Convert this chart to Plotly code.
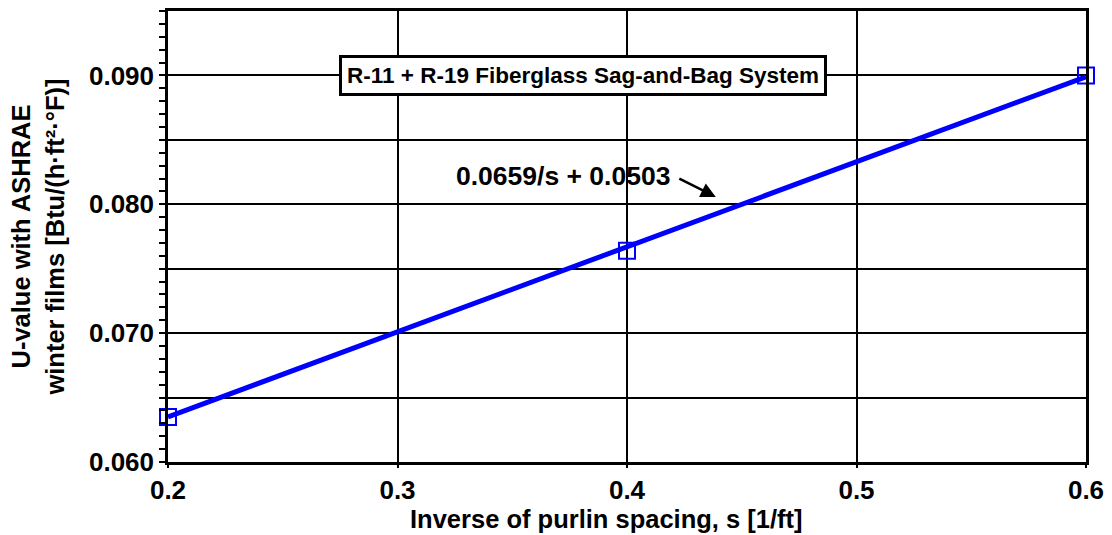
import plotly.graph_objects as go

# Data
spacing_inv = [0.2, 0.4, 0.6]
u_values = [0.0635, 0.0764, 0.0900]
fit_x = [0.2, 0.6]
fit_y = [0.0635, 0.0899]
y_tickvals = [0.060, 0.065, 0.070, 0.075, 0.080, 0.085, 0.090]
y_ticktext = ["0.060", "", "0.070", "", "0.080", "", "0.090"]
title_text = "R-11 + R-19 Fiberglass Sag-and-Bag System"
eq_text = "0.0659/s + 0.0503"
x_title = "Inverse of purlin spacing, s [1/ft]"

FONT = "Arial, Liberation Sans, sans-serif"

fig = go.Figure()
fig.add_trace(go.Scatter(x=fit_x, y=fit_y, mode="lines",
                         line=dict(color="#0000FF", width=5), showlegend=False,
                         hoverinfo="skip"))
fig.add_trace(go.Scatter(x=spacing_inv, y=u_values, mode="markers",
                         marker=dict(symbol="square-open", size=16, color="#0000FF",
                                     line=dict(width=2, color="#0000FF")),
                         showlegend=False, cliponaxis=False))

fig.add_annotation(x=0.3810, y=0.0900, xref="x", yref="y", text=title_text,
                   showarrow=False, font=dict(family=FONT, size=22.5, color="black", weight="bold"),
                   bordercolor="black", borderwidth=3, borderpad=5, bgcolor="white")
fig.add_annotation(x=0.3720, y=0.0822, xref="x", yref="y", text=eq_text,
                   showarrow=False, font=dict(family=FONT, size=26.5, color="black", weight="bold"),
                   bgcolor="rgba(255,255,255,0)")
fig.add_annotation(x=0.4387, y=0.08057, xref="x", yref="y", text="",
                   showarrow=True, arrowhead=2, arrowsize=1.2, arrowwidth=2.5,
                   arrowcolor="black", ax=-38, ay=-19)
fig.add_annotation(x=0.478, y=-0.127, xref="paper", yref="paper", text=x_title,
                   xanchor="center", yanchor="middle",
                   showarrow=False, font=dict(family=FONT, size=25.5, color="black", weight="bold"))

axis_font = dict(family=FONT, size=26, color="black", weight="bold")
title_font = dict(family=FONT, size=25.5, color="black", weight="bold")

fig.update_xaxes(range=[0.2, 0.6], dtick=0.1, tick0=0.2, tickformat=".1f",
                 showgrid=True, gridcolor="black", gridwidth=1.5,
                 showline=True, linecolor="black", linewidth=2.5, mirror=True,
                 ticks="outside", ticklen=3, tickcolor="black", tickwidth=1.5,
                 tickfont=axis_font, zeroline=False)
fig.update_yaxes(range=[0.060, 0.095], tickmode="array", tickvals=y_tickvals, ticktext=y_ticktext,
                 showgrid=True, gridcolor="black", gridwidth=1.5,
                 showline=True, linecolor="black", linewidth=2.5, mirror=True,
                 ticks="outside", ticklen=6, tickcolor="black", tickwidth=1.5,
                 minor=dict(dtick=0.001, tick0=0.060, ticks="outside", ticklen=6,
                            tickcolor="black", tickwidth=1.5, showgrid=False),
                 tickfont=axis_font, zeroline=False,
                 title=dict(text="U-value with ASHRAE<br>winter films [Btu/(h·ft²·°F)]",
                            font=title_font, standoff=18))

fig.update_layout(width=1112, height=535, plot_bgcolor="white", paper_bgcolor="white",
                  margin=dict(l=168, r=24, t=8, b=73), showlegend=False)

fig.write_html("out.html")
